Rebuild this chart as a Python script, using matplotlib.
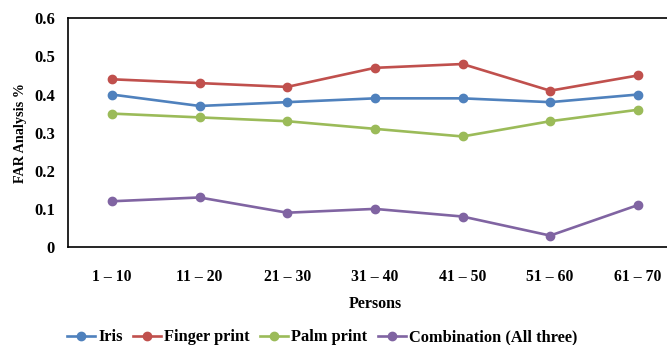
import numpy as np
import matplotlib.pyplot as plt

# dados do gráfico
categorias = ['1 – 10', '11 – 20', '21 – 30', '31 – 40', '41 – 50', '51 – 60', '61 – 70']
iris = [0.40, 0.37, 0.38, 0.39, 0.39, 0.38, 0.40]
finger = [0.44, 0.43, 0.42, 0.47, 0.48, 0.41, 0.45]
palm = [0.35, 0.34, 0.33, 0.31, 0.29, 0.33, 0.36]
combo = [0.12, 0.13, 0.09, 0.10, 0.08, 0.03, 0.11]

series = [
    ('Iris', iris, '#4F81BD'),
    ('Finger print', finger, '#C0504D'),
    ('Palm print', palm, '#9BBB59'),
    ('Combination (All three)', combo, '#8064A2'),
]

plt.rcParams['font.family'] = ['Liberation Serif', 'DejaVu Serif']
plt.rcParams['font.weight'] = 'bold'

fig = plt.figure(figsize=(6.67, 3.45), dpi=100)
ax = fig.add_axes([0.102, 0.284, 0.92, 0.663])

x = np.arange(len(categorias))
for nome, valores, cor in series:
    ax.plot(x, valores, color=cor, lw=1.9, marker='o', ms=6, label=nome)

ax.set_xlim(-0.5, len(categorias) - 0.5)
ax.set_ylim(0, 0.6)
ax.set_yticks(np.arange(0, 0.61, 0.1))
ax.set_yticklabels(['0', '0.1', '0.2', '0.3', '0.4', '0.5', '0.6'])
ax.set_xticks(x)
ax.set_xticklabels(categorias)
ax.tick_params(axis='both', length=0)
ax.tick_params(axis='x', labelsize=11.3, pad=16)
ax.tick_params(axis='y', labelsize=12, pad=9.4)
for s in ax.spines.values():
    s.set_linewidth(1.2)
    s.set_color('black')

ax.set_xlabel('Persons', fontsize=11.5, fontweight='bold', labelpad=7.5)
ax.set_ylabel('FAR Analysis %', fontsize=10.2, fontweight='bold', labelpad=5)

fig.legend(loc='center', bbox_to_anchor=(0.483, 0.022), ncol=4, frameon=False,
           fontsize=11.8, handlelength=1.7, handletextpad=0.18, columnspacing=0.65,
           borderpad=0)

fig.savefig('out.png', dpi=100)
